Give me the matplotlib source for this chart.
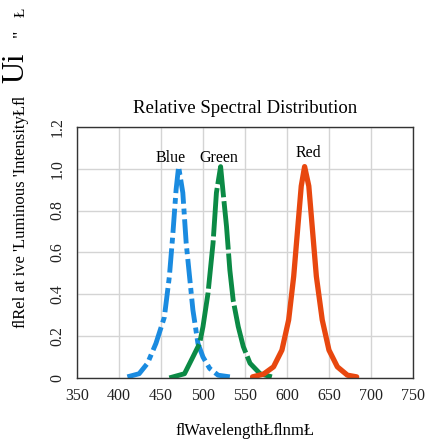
import matplotlib
matplotlib.use("Agg")
import matplotlib.pyplot as plt

plt.rcParams['font.family'] = ['Liberation Serif', 'DejaVu Serif']

# wavelength (nm) / relative intensity
blue_nm = [410, 424, 434, 444, 454, 460, 464, 468, 471, 476, 480, 484, 488, 494, 500, 508, 518, 532]
blue_v = [0.005, 0.02, 0.07, 0.165, 0.29, 0.485, 0.68, 0.9, 1.01, 0.885, 0.645, 0.485, 0.325, 0.165, 0.1, 0.045, 0.013, 0.005]

green_nm = [460, 478, 488, 496, 500, 506, 512, 516, 521, 524, 528, 532, 536, 542, 548, 556, 568, 582]
green_v = [0.0, 0.02, 0.1, 0.165, 0.245, 0.405, 0.645, 0.885, 1.01, 0.885, 0.725, 0.515, 0.37, 0.245, 0.15, 0.07, 0.02, 0.005]

red_nm = [559, 572, 584, 594, 602, 608, 613, 617, 621, 626, 630, 635, 642, 650, 660, 672, 683]
red_v = [0.005, 0.018, 0.053, 0.133, 0.277, 0.485, 0.725, 0.917, 1.01, 0.917, 0.725, 0.485, 0.277, 0.133, 0.053, 0.013, 0.005]

x_ticks = [350, 400, 450, 500, 550, 600, 650, 700, 750]
y_ticks = [0, 0.2, 0.4, 0.6, 0.8, 1.0, 1.2]
y_labels = ['0', '0.2', '0.4', '0.6', '0.8', '1.0', '1.2']

fig = plt.figure(figsize=(4.45, 4.42), dpi=100)
ax = fig.add_axes([0.173, 0.145, 0.755, 0.568])

ax.plot(blue_nm, blue_v, color='#1a8be0', lw=3.5, linestyle=(0, (5, 1, 1.2, 1)),
        dash_capstyle='butt')
ax.plot(green_nm, green_v, color='#0b8a45', lw=3.5, linestyle=(0, (10, 0.8)),
        dash_capstyle='butt')
ax.plot(red_nm, red_v, color='#e8470f', lw=3.8, solid_capstyle='round')

ax.text(461, 1.05, 'Blue', ha='center', va='center', fontsize=11.5)
ax.text(519, 1.05, 'Green', ha='center', va='center', fontsize=11.5)
ax.text(626, 1.075, 'Red', ha='center', va='center', fontsize=11.5)

ax.set_xlim(350, 750)
ax.set_ylim(0, 1.2)
ax.set_xticks(x_ticks)
ax.set_yticks(y_ticks)
ax.set_yticklabels(y_labels, rotation=90, va='center')
ax.tick_params(length=0, labelsize=11.5, colors='#222222')
ax.tick_params(axis='x', pad=7)
ax.tick_params(axis='y', pad=8)
ax.grid(True, color='#d4d4d4', lw=1)
ax.set_axisbelow(True)
for s in ax.spines.values():
    s.set_color('#333333')
    s.set_linewidth(1)

ax.set_title('Relative Spectral Distribution', fontsize=13.5, pad=10)
ax.set_xlabel('ﬂWavelengthŁﬂnmŁ', fontsize=12, labelpad=14)

# garbled y label, drawn in pieces like the source
fig.text(0.047, 1 - 212 / 442, "ﬂRel at ive 'Luminous 'IntensityŁﬂ", rotation=90,
         ha='center', va='center', fontsize=12)
fig.text(0.036, 1 - 68 / 442, 'Ui', rotation=90, ha='center', va='center', fontsize=22)
fig.text(0.047, 1 - 33 / 442, '"', rotation=90, ha='center', va='center', fontsize=13)
fig.text(0.047, 1 - 12 / 442, 'Ł', rotation=90, ha='center', va='center', fontsize=11)

fig.savefig('out.png', dpi=100)
